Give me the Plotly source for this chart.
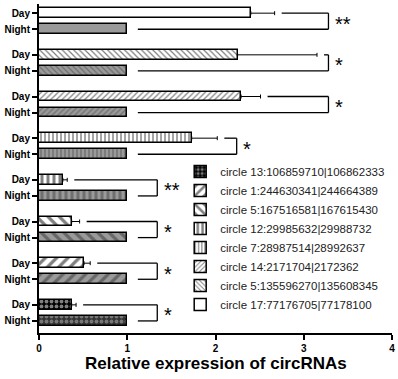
import plotly.graph_objects as go

# Data (bottom group first)
labels = ["circle 13:106859710|106862333", "circle 1:244630341|244664389",
          "circle 5:167516581|167615430", "circle 12:29985632|29988732",
          "circle 7:28987514|28992637", "circle 14:2171704|2172362",
          "circle 5:135596270|135608345", "circle 17:77176705|77178100"]
day = [0.37, 0.51, 0.37, 0.27, 1.73, 2.29, 2.25, 2.40]
day_err = [0.05, 0.07, 0.09, 0.05, 0.29, 0.22, 0.90, 0.27]
night = [1, 1, 1, 1, 1, 1, 1, 1]
stars = ["*", "*", "*", "**", "*", "*", "*", "**"]
bracket_x = [1.34, 1.34, 1.34, 1.34, 2.24, 3.28, 3.28, 3.28]
x_ticks = [0, 1, 2, 3, 4]

# Styles per group
shapes_p = [".", "/", "\\", "|", "|", "/", "\\", ""]
sizes_p = [5, 8, 8, 6, 4, 4, 4, 4]
solid_p = [0.45, 0.4, 0.4, 0.5, 0.35, 0.3, 0.3, 0.3]
day_bg = ["black", "white", "white", "white", "white", "white", "white", "white"]
day_fg = ["white", "black", "black", "black", "black", "black", "black", "black"]
night_bg = ["#333333", "#9a9a9a", "#9a9a9a", "#9a9a9a", "#9a9a9a", "#9a9a9a", "#9a9a9a", "#9a9a9a"]
night_fg = ["#bbbbbb", "#333333", "#333333", "#444444", "#444444", "#444444", "#444444", "#444444"]

FONT = "Liberation Sans, Arial"
pitch = 2.59
fig = go.Figure()
tickvals, ticktext = [], []
shapes = []
annos = []
for k in range(len(labels)):
    yn = k * pitch
    yd = yn + 1
    tickvals += [yn, yd]
    ticktext += ["Night", "Day"]
    fig.add_trace(go.Bar(
        x=[day[k]], y=[yd], orientation="h", width=0.6, name=labels[k],
        legendgroup=labels[k], showlegend=True,
        marker=dict(color=day_bg[k], line=dict(color="black", width=1.5),
                    pattern=dict(shape=shapes_p[k], size=sizes_p[k], solidity=solid_p[k],
                                 fgcolor=day_fg[k], bgcolor=day_bg[k], fillmode="overlay")),
        error_x=dict(type="data", symmetric=False, array=[day_err[k]], arrayminus=[0],
                     color="black", thickness=1, width=2),
    ))
    fig.add_trace(go.Bar(
        x=[night[k]], y=[yn], orientation="h", width=0.6, name=labels[k],
        legendgroup=labels[k], showlegend=False,
        marker=dict(color=night_bg[k], line=dict(color="black", width=1.5),
                    pattern=dict(shape=shapes_p[k], size=sizes_p[k], solidity=solid_p[k],
                                 fgcolor=night_fg[k], bgcolor=night_bg[k], fillmode="overlay")),
    ))
    top_start = day[k] + day_err[k] + 0.08
    bot_start = night[k] + 0.12
    bx = bracket_x[k]
    line = dict(color="black", width=1.3)
    shapes.append(dict(type="line", x0=top_start, x1=bx, y0=yd, y1=yd, xref="x", yref="y", line=line))
    shapes.append(dict(type="line", x0=bot_start, x1=bx, y0=yn, y1=yn, xref="x", yref="y", line=line))
    shapes.append(dict(type="line", x0=bx, x1=bx, y0=yn, y1=yd, xref="x", yref="y", line=line))
    annos.append(dict(x=bx + 0.05, y=(yn + yd) / 2 - 0.15, text=stars[k], showarrow=False,
                      xanchor="left", yanchor="middle",
                      font=dict(size=20, color="black", family=FONT)))

annos.append(dict(x=0.5, y=0, xref="paper", yref="paper", yshift=-30, yanchor="middle",
                  text="<b>Relative expression of circRNAs</b>", showarrow=False,
                  font=dict(size=17, color="black", family=FONT)))

fig.update_layout(
    width=398, height=379,
    margin=dict(l=39, r=6, t=4, b=46, autoexpand=False),
    plot_bgcolor="white", paper_bgcolor="white",
    barmode="overlay", bargap=0,
    showlegend=True,
    legend=dict(x=0.40, y=0.535, xanchor="left", yanchor="top", bgcolor="rgba(0,0,0,0)",
                font=dict(size=11.5, color="#222", family=FONT),
                traceorder="normal", itemwidth=30, tracegroupgap=0),
    shapes=shapes, annotations=annos,
    font=dict(family=FONT, color="black"),
)
fig.update_xaxes(range=[0, 4], tickvals=x_ticks, showline=True, linecolor="black", linewidth=2,
                 ticks="outside", ticklen=5, tickwidth=2, tickcolor="black", showgrid=False,
                 zeroline=False, automargin=False,
                 tickfont=dict(size=10, family=FONT, weight="bold"))
fig.update_yaxes(range=[-0.75, 19.7], tickvals=tickvals, ticktext=ticktext, showline=True,
                 linecolor="black", linewidth=2, ticks="outside", ticklen=5, tickwidth=2,
                 tickcolor="black", showgrid=False, zeroline=False, automargin=False,
                 tickfont=dict(size=10, family=FONT, weight="bold"))
fig.write_html("out.html", config={"displayModeBar": False},
               post_script="document.body.style.margin='0';")
